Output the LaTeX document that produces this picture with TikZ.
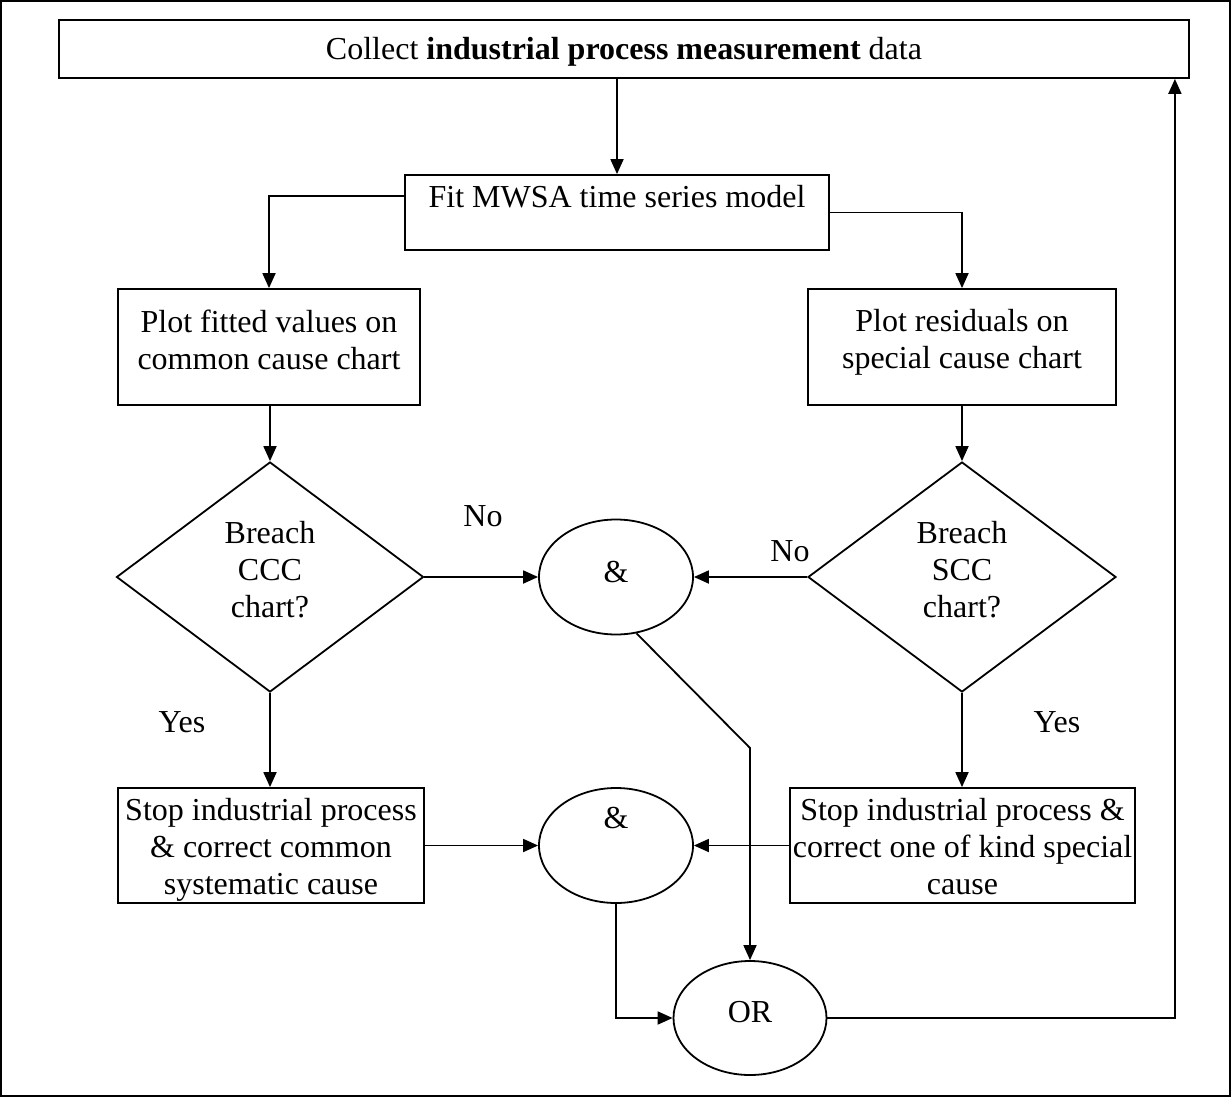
\documentclass[tikz,border=0pt]{standalone}
\usepackage{fontspec}
\setmainfont{Liberation Serif}
\usetikzlibrary{shapes.geometric,arrows.meta}
\begin{document}
\begin{tikzpicture}[x=1pt,y=-1pt,
  line width=1.8pt,
  every node/.style={font=\fontsize{32}{37}\selectfont},
  box/.style={draw,rectangle,inner sep=0pt},
  decision/.style={draw,diamond,inner sep=0pt},
  gate/.style={draw,ellipse,inner sep=0pt},
  lbl/.style={inner sep=0pt,align=center},
  arr/.style={-{Triangle[length=15pt,width=13pt]}}]
  % page and frame
  \useasboundingbox (0,0) rectangle (1231,1097);
  \draw (1,1) rectangle (1230,1096);

  % boxes
  \node[box,minimum width=1130pt,minimum height=58pt] (top) at (624,49) {};
  \node[lbl] (topt) at (624,52) {Collect \textbf{industrial process measurement} data};
  \node[box,minimum width=424pt,minimum height=75pt] (fit) at (617,212.5) {};
  \node[lbl] (fitt) at (617,197) {Fit MWSA time series model};
  \node[box,minimum width=302pt,minimum height=116pt] (pfit) at (269,347) {};
  \node[lbl] (pfitt) at (269,339.5) {Plot fitted values on\\common cause chart};
  \node[box,minimum width=308pt,minimum height=116pt] (pres) at (962,347) {};
  \node[lbl] (prest) at (962,342) {Plot residuals on\\special cause chart};

  % decisions
  \node[decision,minimum width=307pt,minimum height=230pt] (dl) at (270,577) {};
  \node[lbl] (dlt) at (270,569.5) {Breach\\CCC\\chart?};
  \node[decision,minimum width=308pt,minimum height=230pt] (dr) at (962,577) {};
  \node[lbl] (drt) at (962,569.5) {Breach\\SCC\\chart?};

  % corrective actions
  \node[box,minimum width=306pt,minimum height=115pt] (sl) at (271,845.5) {};
  \node[lbl] (slt) at (271,850) {Stop industrial process\\\& correct common\\systematic cause};
  \node[box,minimum width=345pt,minimum height=115pt] (sr) at (962.5,845.5) {};
  \node[lbl] (srt) at (962.5,846.5) {Stop industrial process \&\\correct one of kind special\\cause};

  % logic gates
  \node[gate,minimum width=154pt,minimum height=115pt] (and1) at (616,577) {};
  \node[lbl] (and1t) at (616,572) {\&};
  \node[gate,minimum width=154pt,minimum height=115pt] (and2) at (616,845.5) {};
  \node[lbl] (and2t) at (616,818) {\&};
  \node[gate,minimum width=153pt,minimum height=114pt] (or) at (750,1018) {};
  \node[lbl] (ort) at (750,1012) {OR};

  % branch labels
  \node[lbl] (nol) at (483,516) {No};
  \node[lbl] (nor) at (790,551) {No};
  \node[lbl] (yesl) at (182,722) {Yes};
  \node[lbl] (yesr) at (1057,722) {Yes};

  \coordinate (bend) at (750,748);

  % connectors
  \draw[arr] (top.south -| fit.north) -- (fit.north);
  \draw[arr] ([yshift=16.5pt]fit.west) -| (pfit.north);
  \draw[arr] (fit.east) -| (pres.north);
  \draw[arr] (pfit.south -| dl.north) -- (dl.north);
  \draw[arr] (pres.south) -- (dr.north);
  \draw[arr] (dl.east) -- (and1.west);
  \draw[arr] (dr.west) -- (and1.east);
  \draw[arr] (dl.south) -- (dl.south |- sl.north);
  \draw[arr] (dr.south) -- (dr.south |- sr.north);
  \draw[arr] (sl.east) -- (and2.west);
  \draw[arr] (sr.west) -- (and2.east);
  \draw[arr] (and1.-70) -- (bend) -- (or.north);
  \draw[arr] (and2.south) |- (or.west);
  \draw[arr] (or.east) -| ([xshift=-15pt]top.south east);
\end{tikzpicture}
\end{document}
